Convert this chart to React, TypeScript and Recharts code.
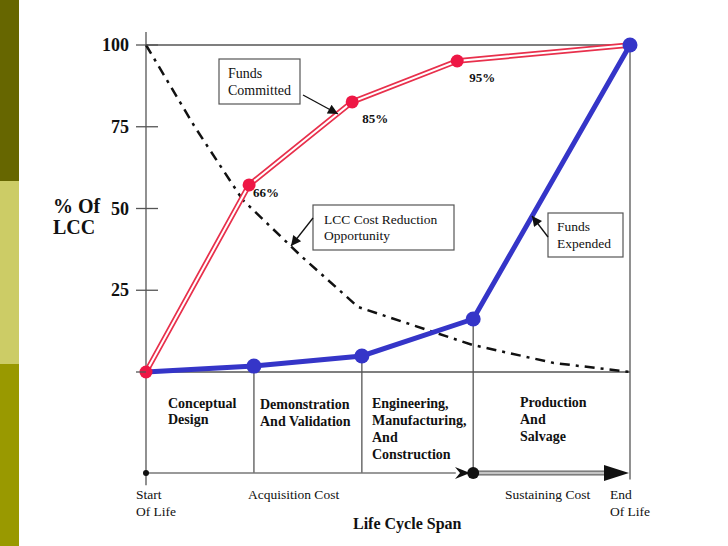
import { LineChart, Line, XAxis, YAxis, ReferenceLine, ReferenceDot } from "recharts";

const serif = '"Liberation Serif", "Times New Roman", serif';

// position along the life cycle: 0 = start of life, 100 = end of life
const phaseBounds = [0, 22.3, 44.6, 67.6, 100];

const committedAt = [0, 21.3, 42.6, 64.3, 100];
const committedPct = [0, 57.2, 82.6, 95.1, 100];
const committedLabels = ["", "66%", "85%", "95%", ""];

const expendedPct = [0, 1.8, 4.9, 16.2, 100];

const reductionAt = [0, 10.1, 20.0, 31.8, 43.8, 55.0, 67.4, 84.1, 100];
const reductionPct = [100, 74.9, 52.6, 35.8, 19.9, 14.4, 8.3, 2.8, 0];

const yTicks = [0, 25, 50, 75, 100];

const committedData = committedAt.map((at, i) => ({ at, pct: committedPct[i] }));
const expendedData = phaseBounds.map((at, i) => ({ at, pct: expendedPct[i] }));
const reductionData = reductionAt.map((at, i) => ({ at, pct: reductionPct[i] }));

// levels below the plot (in % units) for the frame and the span arrow
const axisTop = 104;
const axisBottom = -34.6;
const spanLevel = -30.9;

const frame = "#555";
const red = "#e8304c";
const blue = "#3535c8";

// label offsets from each committed point
const labelOffsets = [[0, 0], [4, 12], [10, 21], [12, 21], [0, 0]];

function PctTick(props: any) {
  const { x, y, payload } = props;
  return (
    <g>
      <line x1={x - 10} x2={payload.value === 0 ? x : x + 12} y1={y} y2={y} stroke={frame} strokeWidth={1.3} />
      {payload.value > 0 && (
        <text x={x - 17} y={y + 6} textAnchor="end" fontFamily={serif} fontWeight="bold" fontSize={18} fill="#111">
          {payload.value}
        </text>
      )}
    </g>
  );
}

function redDot(p: any) {
  if (p.index === committedPct.length - 1) return <g key={p.index} />;
  return <circle key={p.index} cx={p.cx} cy={p.cy} r={6.5} fill="#ee1745" />;
}

function blueDot(p: any) {
  if (p.index === 0 || p.index === expendedPct.length - 1) return <g key={p.index} />;
  return <circle key={p.index} cx={p.cx} cy={p.cy} r={7.5} fill={blue} />;
}

function pctLabel(p: any) {
  const t = committedLabels[p.index];
  if (!t) return <g key={p.index} />;
  const [dx, dy] = labelOffsets[p.index];
  return (
    <text key={p.index} x={p.x + dx} y={p.y + dy} fontFamily={serif} fontWeight="bold" fontSize={13} fill="#111">
      {t}
    </text>
  );
}

function Lines({ x, y, lines, size, bold, gap }: any) {
  return (
    <text x={x} y={y} fontFamily={serif} fontSize={size} fontWeight={bold ? "bold" : "normal"} fill="#111">
      {lines.map((l: string, i: number) => (
        <tspan key={i} x={x} dy={i === 0 ? 0 : gap}>
          {l}
        </tspan>
      ))}
    </text>
  );
}

export default function App() {
  return (
    <div style={{ position: "absolute", left: 0, top: 0, width: 728, height: 546, background: "#fff" }}>
      <div style={{ position: "absolute", left: 0, top: 0, width: 19, height: 181, background: "#666600" }} />
      <div style={{ position: "absolute", left: 0, top: 181, width: 19, height: 183, background: "#cccc66" }} />
      <div style={{ position: "absolute", left: 0, top: 364, width: 19, height: 182, background: "#999900" }} />

      <LineChart width={728} height={546} margin={{ top: 45, right: 98, bottom: 174, left: 86 }}>
        <XAxis type="number" dataKey="at" domain={[0, 100]} hide />
        <YAxis
          type="number"
          domain={[0, 100]}
          ticks={yTicks}
          interval={0}
          width={60}
          axisLine={false}
          tickLine={false}
          tickSize={0}
          tickMargin={0}
          tick={(p: any) => <PctTick {...p} />}
        />
        <ReferenceLine segment={[{ x: 0, y: axisTop }, { x: 0, y: axisBottom }]} stroke={frame} strokeWidth={1.3} ifOverflow="visible" />
        <ReferenceLine segment={[{ x: 0, y: 100 }, { x: 100, y: 100 }]} stroke={frame} strokeWidth={1.3} ifOverflow="visible" />
        <ReferenceLine segment={[{ x: 100, y: 100 }, { x: 100, y: spanLevel - 2 }]} stroke={frame} strokeWidth={1.3} ifOverflow="visible" />
        <ReferenceLine segment={[{ x: 0, y: 0 }, { x: 100, y: 0 }]} stroke={frame} strokeWidth={1.3} ifOverflow="visible" />
        {phaseBounds.slice(1, 4).map((b, i) => (
          <ReferenceLine
            key={b}
            segment={[{ x: b, y: expendedPct[i + 1] }, { x: b, y: spanLevel }]}
            stroke={frame}
            strokeWidth={1.3}
            ifOverflow="visible"
          />
        ))}
        <ReferenceLine segment={[{ x: 0, y: spanLevel }, { x: 64, y: spanLevel }]} stroke="#777" strokeWidth={1.6} ifOverflow="visible" />
        <ReferenceLine segment={[{ x: phaseBounds[3], y: spanLevel }, { x: 96, y: spanLevel }]} stroke="#666" strokeWidth={5} ifOverflow="visible" />
        <ReferenceLine segment={[{ x: phaseBounds[3], y: spanLevel }, { x: 96, y: spanLevel }]} stroke="#c4c4c4" strokeWidth={2.4} ifOverflow="visible" />
        <ReferenceDot x={0} y={spanLevel} r={3} fill="#111" stroke="none" ifOverflow="visible" />
        <ReferenceDot x={phaseBounds[3]} y={spanLevel} r={6} fill="#111" stroke="none" ifOverflow="visible" />

        <Line data={reductionData} dataKey="pct" stroke="#111" strokeWidth={2.5} strokeDasharray="10 6 3 6" dot={false} isAnimationActive={false} />
        <Line data={expendedData} dataKey="pct" stroke={blue} strokeWidth={5} dot={blueDot} isAnimationActive={false} />
        <Line data={committedData} dataKey="pct" stroke={red} strokeWidth={5.5} dot={false} isAnimationActive={false} />
        <Line data={committedData} dataKey="pct" stroke="#fff" strokeWidth={2} dot={false} isAnimationActive={false} />
        <Line data={committedData} dataKey="pct" stroke="none" dot={redDot} label={pctLabel} isAnimationActive={false} />
        <ReferenceDot x={100} y={100} r={7.5} fill={blue} stroke="none" ifOverflow="visible" />
      </LineChart>

      <svg width={728} height={546} style={{ position: "absolute", left: 0, top: 0, pointerEvents: "none" }}>
        <defs>
          <marker id="head" viewBox="0 0 10 10" refX="10" refY="5" markerWidth="13" markerHeight="10" orient="auto" markerUnits="userSpaceOnUse">
            <path d="M0,0 L10,5 L0,10 z" fill="#111" />
          </marker>
        </defs>

        <polygon points="455,467 470,473 455,479 460,473" fill="#111" />
        <polygon points="604,465 629,473 604,481" fill="#111" />

        <rect x={219} y={59} width={81} height={45} fill="#fff" stroke={frame} strokeWidth={1.2} />
        <Lines x={228} y={78} lines={["Funds", "Committed"]} size={14} gap={17} />
        <line x1={303} y1={95} x2={338} y2={114} stroke="#111" strokeWidth={1.3} markerEnd="url(#head)" />

        <rect x={313} y={205} width={141} height={45} fill="#fff" stroke={frame} strokeWidth={1.2} />
        <Lines x={324} y={224} lines={["LCC Cost Reduction", "Opportunity"]} size={13.5} gap={16} />
        <line x1={313} y1={218} x2={291} y2={246} stroke="#111" strokeWidth={1.3} markerEnd="url(#head)" />

        <rect x={548} y={213} width={75} height={44} fill="#fff" stroke={frame} strokeWidth={1.2} />
        <Lines x={557} y={231} lines={["Funds", "Expended"]} size={13.5} gap={17} />
        <line x1={548} y1={237} x2={532} y2={216} stroke="#111" strokeWidth={1.3} markerEnd="url(#head)" />

        <Lines x={53} y={213} lines={["% Of", "LCC"]} size={20} bold gap={21} />

        <Lines x={168} y={408} lines={["Conceptual", "Design"]} size={14} bold gap={16} />
        <Lines x={260} y={409} lines={["Demonstration", "And Validation"]} size={14} bold gap={17} />
        <Lines x={372} y={408} lines={["Engineering,", "Manufacturing,", "And", "Construction"]} size={14} bold gap={17} />
        <Lines x={520} y={407} lines={["Production", "And", "Salvage"]} size={14} bold gap={17} />

        <Lines x={136} y={499} lines={["Start", "Of Life"]} size={13.5} gap={17} />
        <Lines x={248} y={499} lines={["Acquisition Cost"]} size={13.5} gap={17} />
        <Lines x={505} y={499} lines={["Sustaining Cost"]} size={13.5} gap={17} />
        <Lines x={610} y={499} lines={["End", "Of Life"]} size={13.5} gap={17} />
        <Lines x={353} y={529} lines={["Life Cycle Span"]} size={16} bold gap={17} />
      </svg>
    </div>
  );
}
